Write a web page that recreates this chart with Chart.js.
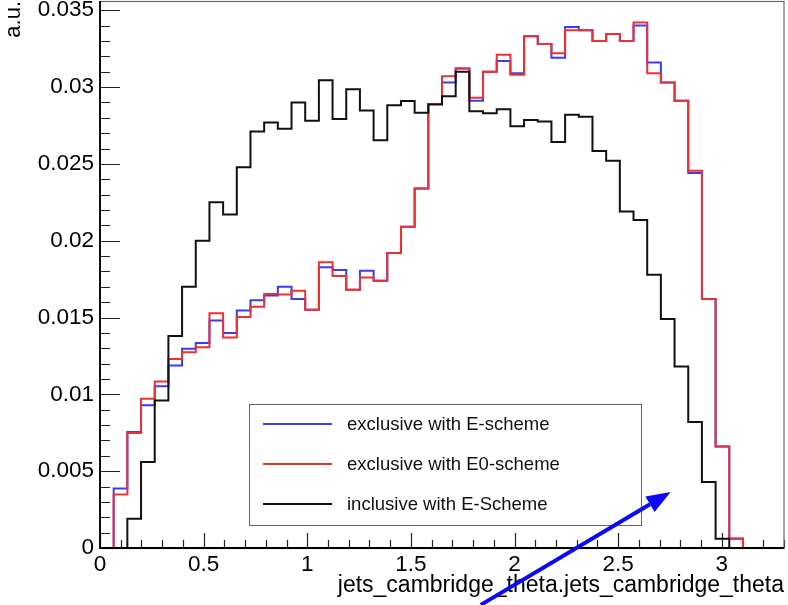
<!DOCTYPE html>
<html><head><meta charset="utf-8">
<script src="https://cdn.jsdelivr.net/npm/chart.js@4.4.0/dist/chart.umd.min.js"></script>
<style>html,body{margin:0;padding:0;background:#fff;overflow:hidden}canvas{display:block}</style>
</head><body>
<canvas id="c" width="788" height="605"></canvas>
<script>
// ---- histogram definition ----
const binLow = 0, binHigh = 3.3, nBins = 50;

const exclusiveE = [
  0, 0.00388, 0.00755, 0.00929, 0.01052, 0.01188, 0.01297, 0.01335, 0.01480, 0.01400,
  0.01545, 0.01612, 0.01643, 0.01700, 0.01620, 0.01550, 0.01827, 0.01810, 0.01680, 0.01805,
  0.01740, 0.01920, 0.02090, 0.02340, 0.02890, 0.03030, 0.03120, 0.02910, 0.03100, 0.03170,
  0.03090, 0.03330, 0.03280, 0.03190, 0.03390, 0.03370, 0.03300, 0.03346, 0.03300, 0.03400,
  0.03160, 0.03030, 0.02910, 0.02440, 0.01620, 0.00660, 0.00060, 0, 0, 0
];
const exclusiveE0 = [
  0, 0.00349, 0.00749, 0.00972, 0.01084, 0.01230, 0.01274, 0.01306, 0.01528, 0.01370,
  0.01503, 0.01570, 0.01653, 0.01650, 0.01675, 0.01550, 0.01860, 0.01770, 0.01680, 0.01760,
  0.01740, 0.01920, 0.02090, 0.02340, 0.02890, 0.03070, 0.03120, 0.02930, 0.03100, 0.03210,
  0.03080, 0.03330, 0.03280, 0.03220, 0.03370, 0.03370, 0.03300, 0.03346, 0.03300, 0.03420,
  0.03090, 0.03030, 0.02910, 0.02455, 0.01620, 0.00660, 0.00062, 0, 0, 0
];
const inclusiveE = [
  0, 0, 0.00190, 0.00560, 0.00960, 0.01380, 0.01700, 0.02000, 0.02250, 0.02170,
  0.02478, 0.02710, 0.02770, 0.02728, 0.02900, 0.02780, 0.03045, 0.02792, 0.02985, 0.02848,
  0.02654, 0.02881, 0.02909, 0.02833, 0.02887, 0.02940, 0.03100, 0.02842, 0.02830, 0.02855,
  0.02745, 0.02786, 0.02775, 0.02642, 0.02820, 0.02806, 0.02584, 0.02520, 0.02190, 0.02134,
  0.01779, 0.01491, 0.01182, 0.00820, 0.00430, 0.00060, 0, 0, 0, 0
];
const seriesLabels = ['exclusive with E-scheme', 'exclusive with E0-scheme', 'inclusive with E-Scheme'];
const seriesColors = ['#3b3bf5', '#f0302c', '#111111'];

const xTickValues = [0, 0.5, 1, 1.5, 2, 2.5, 3];
const yTickValues = [0, 0.005, 0.01, 0.015, 0.02, 0.025, 0.03, 0.035];
const xMinorStep = 0.1, yMinorStep = 0.001;
const yMax = 0.0356;
const xTitle = 'jets_cambridge_theta.jets_cambridge_theta';
const yTitle = 'a.u.';

// annotation arrow, in data coordinates
const arrowFrom = {x: 1.837, y: -0.0037};
const arrowTo = {x: 2.753, y: 0.00364};

const FONT = "'Liberation Sans', Arial, Helvetica, sans-serif";
Chart.defaults.font.family = FONT;

function toSteps(values) {
  const w = (binHigh - binLow) / nBins;
  const pts = values.map((v, i) => ({x: binLow + i * w, y: v}));
  pts.push({x: binHigh, y: 0});
  return pts;
}

const axesPlugin = {
  id: 'rootAxes',
  beforeDatasetsDraw(chart) {
    const {ctx, chartArea: a, scales: {x, y}} = chart;
    ctx.save();
    ctx.strokeStyle = '#222';
    ctx.lineWidth = 1.2;
    ctx.beginPath();
    const nx = Math.round((binHigh - binLow) / xMinorStep);
    for (let i = 0; i <= nx; i++) {
      const v = binLow + i * xMinorStep;
      const major = xTickValues.some(t => Math.abs(t - v) < 1e-9);
      const px = Math.round(x.getPixelForValue(v)) + 0.5;
      ctx.moveTo(px, a.bottom);
      ctx.lineTo(px, a.bottom - (major ? 15 : 8));
    }
    const ny = Math.round(0.035 / yMinorStep);
    for (let i = 0; i <= ny; i++) {
      const v = i * yMinorStep;
      const major = yTickValues.some(t => Math.abs(t - v) < 1e-9);
      const py = Math.round(y.getPixelForValue(v)) + 0.5;
      ctx.moveTo(a.left, py);
      ctx.lineTo(a.left + (major ? 20 : 10), py);
    }
    ctx.stroke();
    ctx.restore();
  },
  afterDatasetsDraw(chart) {
    const {ctx, chartArea: a} = chart;
    ctx.save();
    ctx.strokeStyle = '#666';
    ctx.lineWidth = 1.2;
    ctx.strokeRect(a.left, a.top + 0.5, a.right - a.left, a.bottom - a.top);
    ctx.strokeStyle = '#000';
    ctx.lineWidth = 1.8;
    ctx.beginPath();
    ctx.moveTo(a.left, a.top);
    ctx.lineTo(a.left, a.bottom);
    ctx.lineTo(a.right, a.bottom);
    ctx.stroke();
    ctx.restore();
  }
};

const legendPlugin = {
  id: 'rootLegend',
  afterDraw(chart) {
    const {ctx} = chart;
    const box = {l: 249.5, t: 404.5, r: 641.5, b: 525.5};
    ctx.save();
    ctx.fillStyle = '#fff';
    ctx.fillRect(box.l, box.t, box.r - box.l, box.b - box.t);
    ctx.strokeStyle = '#666';
    ctx.lineWidth = 1;
    ctx.strokeRect(box.l, box.t, box.r - box.l, box.b - box.t);
    const rows = [424, 464, 504];
    chart.data.datasets.forEach((ds, i) => {
      ctx.strokeStyle = ds.borderColor;
      ctx.lineWidth = 2;
      ctx.beginPath();
      ctx.moveTo(263, rows[i]);
      ctx.lineTo(332, rows[i]);
      ctx.stroke();
      ctx.fillStyle = '#111';
      ctx.font = '18.5px ' + FONT;
      ctx.textBaseline = 'middle';
      ctx.textAlign = 'left';
      ctx.fillText(ds.label, 347, rows[i] + 1);
    });
    ctx.restore();
  }
};

const arrowPlugin = {
  id: 'arrow',
  afterDraw(chart) {
    const {ctx, scales: {x, y}} = chart;
    const x0 = x.getPixelForValue(arrowFrom.x), y0 = y.getPixelForValue(arrowFrom.y);
    const x1 = x.getPixelForValue(arrowTo.x), y1 = y.getPixelForValue(arrowTo.y);
    const ang = Math.atan2(y1 - y0, x1 - x0);
    const hl = 24, hw = 9;
    const bx = x1 - hl * Math.cos(ang), by = y1 - hl * Math.sin(ang);
    ctx.save();
    ctx.strokeStyle = '#0a0af5';
    ctx.fillStyle = '#0a0af5';
    ctx.lineWidth = 4;
    ctx.beginPath();
    ctx.moveTo(x0, y0);
    ctx.lineTo(bx, by);
    ctx.stroke();
    ctx.beginPath();
    ctx.moveTo(x1, y1);
    ctx.lineTo(bx + hw * Math.sin(ang), by - hw * Math.cos(ang));
    ctx.lineTo(bx - hw * Math.sin(ang), by + hw * Math.cos(ang));
    ctx.closePath();
    ctx.fill();
    ctx.restore();
  }
};

new Chart(document.getElementById('c'), {
  type: 'line',
  data: {
    datasets: [
      {label: seriesLabels[0], data: toSteps(exclusiveE), borderColor: seriesColors[0], order: 2},
      {label: seriesLabels[1], data: toSteps(exclusiveE0), borderColor: seriesColors[1], order: 1},
      {label: seriesLabels[2], data: toSteps(inclusiveE), borderColor: seriesColors[2], order: 0}
    ]
  },
  options: {
    responsive: false,
    animation: false,
    devicePixelRatio: 1,
    layout: {padding: {top: 1, right: 4, left: 0, bottom: 0}},
    elements: {
      line: {borderWidth: 2, stepped: 'before', tension: 0, fill: false},
      point: {radius: 0}
    },
    plugins: {legend: {display: false}, tooltip: {enabled: false}},
    scales: {
      x: {
        type: 'linear', min: binLow, max: binHigh,
        afterBuildTicks: s => { s.ticks = xTickValues.map(v => ({value: v})); },
        afterFit: s => { s.height = 57; s.paddingLeft = 0; s.paddingRight = 0; },
        grid: {display: false, drawTicks: false},
        border: {display: false},
        ticks: {autoSkip: false, maxRotation: 0, padding: 3, color: '#000', font: {size: 22.5},
                callback: v => String(v)},
        title: {display: true, text: xTitle, align: 'end', color: '#000', font: {size: 23},
                padding: {top: 0, bottom: 6}}
      },
      y: {
        type: 'linear', min: 0, max: yMax,
        afterBuildTicks: s => { s.ticks = yTickValues.map(v => ({value: v})); },
        afterFit: s => { s.width = 100; s.paddingTop = 0; s.paddingBottom = 0; },
        grid: {display: false, drawTicks: false},
        border: {display: false},
        ticks: {autoSkip: false, padding: 6, color: '#000', font: {size: 22.5},
                callback: v => v === 0 ? '0' : String(Math.round(v * 1000) / 1000)},
        title: {display: true, text: yTitle, align: 'end', color: '#000', font: {size: 22},
                padding: {top: 1, bottom: 0}}
      }
    }
  },
  plugins: [axesPlugin, legendPlugin, arrowPlugin]
});
</script>
</body></html>
